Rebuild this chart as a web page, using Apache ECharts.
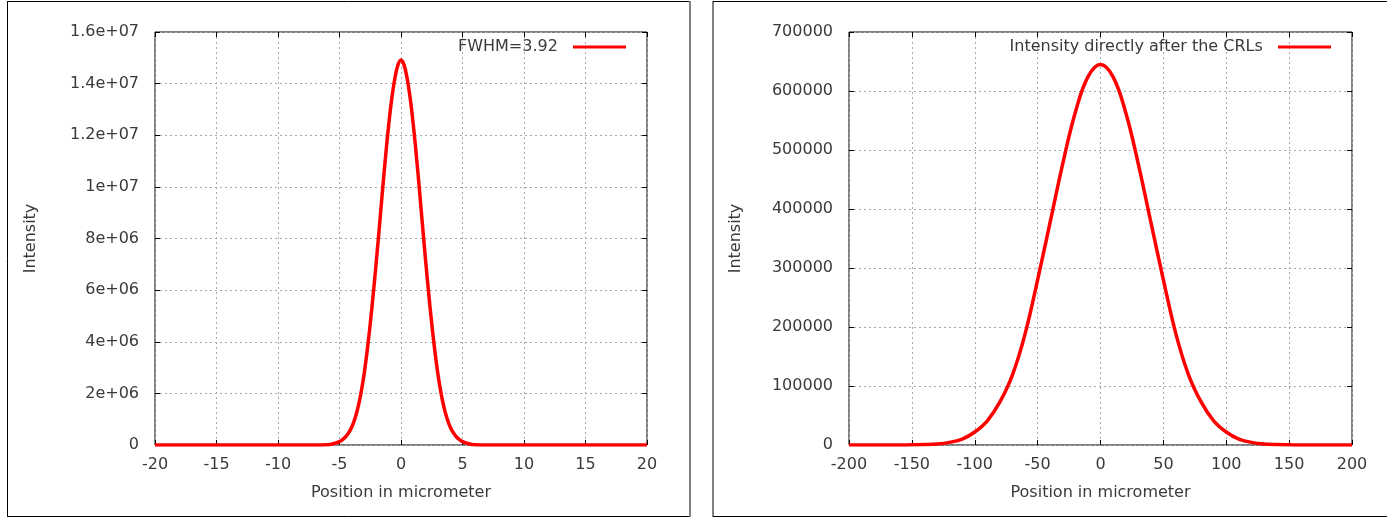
<!DOCTYPE html>
<html>
<head>
<meta charset="utf-8">
<script src="https://cdn.jsdelivr.net/npm/echarts@6/dist/echarts.min.js"></script>
<style>
html,body{margin:0;padding:0;background:#fff;}
#c{width:1387px;height:518px;}
</style>
</head>
<body>
<div id="c"></div>
<script>
// Left panel: focused beam
var leftName = 'FWHM=3.92';
var leftX = [-20, -15, -10, -7, -6, -5.5, -5, -4.75, -4.5, -4.25, -4, -3.75, -3.5, -3.25, -3, -2.75, -2.5, -2.25, -2, -1.75, -1.5, -1.25, -1, -0.75, -0.5, -0.25, 0,
             0.25, 0.5, 0.75, 1, 1.25, 1.5, 1.75, 2, 2.25, 2.5, 2.75, 3, 3.25, 3.5, 3.75, 4, 4.25, 4.5, 4.75, 5, 5.5, 6, 7, 10, 15, 20];
var leftY = [0, 0, 0, 0, 10000, 50000, 130000, 210000, 320000, 480000, 700000, 1020000, 1450000, 2020000, 2750000, 3650000, 4700000, 5880000, 7150000, 8500000, 9880000, 11200000, 12400000, 13420000, 14200000, 14720000, 14920000,
             14720000, 14200000, 13420000, 12400000, 11200000, 9880000, 8500000, 7150000, 5880000, 4700000, 3650000, 2750000, 2020000, 1450000, 1020000, 700000, 480000, 320000, 210000, 130000, 50000, 10000, 0, 0, 0, 0];
var leftXTicks = [-20, -15, -10, -5, 0, 5, 10, 15, 20];
var leftYTickLabels = ['0', '2e+06', '4e+06', '6e+06', '8e+06', '1e+07', '1.2e+07', '1.4e+07', '1.6e+07'];

// Right panel: directly after the CRLs
var rightName = 'Intensity directly after the CRLs';
var rightX = [-200, -160, -150, -140, -130, -120, -110, -100, -90, -80, -70, -60, -50, -40, -30, -20, -10, 0,
              10, 20, 30, 40, 50, 60, 70, 80, 90, 100, 110, 120, 130, 140, 150, 160, 200];
var rightY = [0, 0, 400, 700, 1600, 4500, 10000, 22000, 41000, 73000, 119000, 188000, 280000, 378000, 477000, 564000, 624000, 645000,
              624000, 564000, 477000, 378000, 280000, 188000, 119000, 73000, 41000, 22000, 10000, 4500, 1600, 700, 400, 0, 0];

var FONT = 'DejaVu Sans';
var TXT = '#3a3a3a';

function pairs(xs, ys){ return xs.map(function(x,i){ return [x, ys[i]]; }); }

var gridLine = {show:true, lineStyle:{color:'#a8a8a8', width:1, type:[2,3]}};
var tick = {show:true, inside:true, length:5, lineStyle:{color:'#000'}};

function xAxes(gi, min, max, interval){
  return [
    {gridIndex:gi, type:'value', min:min, max:max, interval:interval, position:'bottom',
     axisLine:{show:false, onZero:false}, axisTick:tick,
     axisLabel:{color:TXT, fontFamily:FONT, fontSize:16, margin:12},
     splitLine:gridLine,
     name:'Position in micrometer', nameLocation:'middle', nameGap:40,
     nameTextStyle:{color:TXT, fontFamily:FONT, fontSize:16}},
    {gridIndex:gi, type:'value', min:min, max:max, interval:interval, position:'top',
     axisLine:{show:false, onZero:false}, axisTick:tick,
     axisLabel:{show:false}, splitLine:{show:false}}
  ];
}
function yAxes(gi, max, interval, labels, gap){
  return [
    {gridIndex:gi, type:'value', min:0, max:max, interval:interval, position:'left',
     axisLine:{show:false, onZero:false}, axisTick:tick,
     axisLabel:{color:TXT, fontFamily:FONT, fontSize:16, margin:16,
       formatter:function(v){ var i = Math.round(v/interval); return labels ? labels[i] : String(v); }},
     splitLine:gridLine,
     name:'Intensity', nameLocation:'middle', nameGap:gap, nameRotate:90,
     nameTextStyle:{color:TXT, fontFamily:FONT, fontSize:16}},
    {gridIndex:gi, type:'value', min:0, max:max, interval:interval, position:'right',
     axisLine:{show:false, onZero:false}, axisTick:tick,
     axisLabel:{show:false}, splitLine:{show:false}}
  ];
}

var chart = echarts.init(document.getElementById('c'), null, {renderer:'canvas'});
var option = {
  animation:false,
  backgroundColor:'#fff',
  grid:[
    {left:155, top:32, width:492, height:413, show:true, borderColor:'#000', borderWidth:1, backgroundColor:'transparent'},
    {left:849, top:32, width:503, height:413, show:true, borderColor:'#000', borderWidth:1, backgroundColor:'transparent'}
  ],
  xAxis: xAxes(0, -20, 20, 5).concat(xAxes(1, -200, 200, 50)),
  yAxis: yAxes(0, 16000000, 2000000, leftYTickLabels, 116).concat(yAxes(1, 700000, 100000, null, 105)),
  legend:[
    {data:[leftName], right:1387-626, top:39, padding:0, align:'right', icon:'rect', itemWidth:53, itemHeight:3,
     formatter:'{name}  ', textStyle:{color:TXT, fontFamily:FONT, fontSize:16}, selectedMode:false},
    {data:[rightName], right:1387-1331, top:39, padding:0, align:'right', icon:'rect', itemWidth:53, itemHeight:3,
     formatter:'{name}  ', textStyle:{color:TXT, fontFamily:FONT, fontSize:16}, selectedMode:false}
  ],
  graphic:[
    {type:'line', shape:{x1:7.5, y1:1.5, x2:690, y2:1.5}, style:{stroke:'#000', lineWidth:1}},
    {type:'line', shape:{x1:7.5, y1:1, x2:7.5, y2:516.5}, style:{stroke:'#000', lineWidth:1}},
    {type:'line', shape:{x1:7, y1:516.5, x2:690, y2:516.5}, style:{stroke:'#000', lineWidth:1}},
    {type:'line', shape:{x1:690, y1:1, x2:690, y2:517}, style:{stroke:'#808080', lineWidth:2}},
    {type:'line', shape:{x1:713, y1:1, x2:713, y2:517}, style:{stroke:'#808080', lineWidth:2}},
    {type:'line', shape:{x1:713, y1:1.5, x2:1387, y2:1.5}, style:{stroke:'#000', lineWidth:1}},
    {type:'line', shape:{x1:713, y1:516.5, x2:1387, y2:516.5}, style:{stroke:'#000', lineWidth:1}}
  ],
  series:[
    {name:leftName, type:'line', xAxisIndex:0, yAxisIndex:0, data:pairs(leftX, leftY),
     showSymbol:false, symbol:'none', smooth:0.4,
     lineStyle:{color:'#ff0000', width:3.5}, itemStyle:{color:'#ff0000'}},
    {name:rightName, type:'line', xAxisIndex:2, yAxisIndex:2, data:pairs(rightX, rightY),
     showSymbol:false, symbol:'none', smooth:0.4,
     lineStyle:{color:'#ff0000', width:3.5}, itemStyle:{color:'#ff0000'}}
  ]
};
chart.setOption(option);
</script>
</body>
</html>
